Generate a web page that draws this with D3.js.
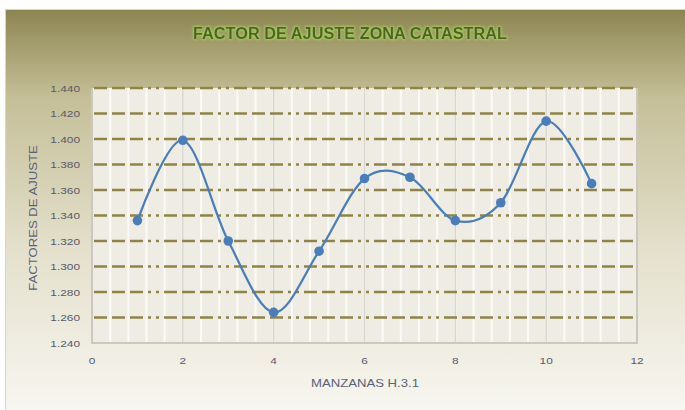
<!DOCTYPE html>
<html>
<head>
<meta charset="utf-8">
<script src="https://d3js.org/d3.v7.min.js"></script>
<style>
  body { margin: 0; background: #fff; }
  svg text { font-family: "Liberation Sans", Arial, sans-serif; }
</style>
</head>
<body>
<div id="chart"></div>
<script>
var width = 685, height = 410;
var margin = {top: 88, right: 48, bottom: 67, left: 92};
var stretch = 1.25; // the labels are drawn wide in the picture

// data
var manzanas = [1, 2, 3, 4, 5, 6, 7, 8, 9, 10, 11];
var factores = [1.336, 1.399, 1.320, 1.264, 1.312, 1.369, 1.370, 1.336, 1.350, 1.414, 1.365];
var xTicks = [0, 2, 4, 6, 8, 10, 12];
var yTicks = [1.24, 1.26, 1.28, 1.30, 1.32, 1.34, 1.36, 1.38, 1.40, 1.42, 1.44];
var titulo = "FACTOR DE AJUSTE ZONA CATASTRAL";
var xTitulo = "MANZANAS H.3.1";
var yTitulo = "FACTORES DE AJUSTE";

var svg = d3.select("#chart").append("svg")
    .attr("width", width)
    .attr("height", height);

var defs = svg.append("defs");
var grad = defs.append("linearGradient")
    .attr("id", "bg").attr("x1", 0).attr("y1", 0).attr("x2", 0).attr("y2", 1);
grad.append("stop").attr("offset", "0%").attr("stop-color", "#8d8550");
grad.append("stop").attr("offset", "22%").attr("stop-color", "#c5bf98");
grad.append("stop").attr("offset", "60%").attr("stop-color", "#e4e0cc");
grad.append("stop").attr("offset", "100%").attr("stop-color", "#f7f6f0");

var glow = defs.append("filter").attr("id", "glow")
    .attr("x", "-10%").attr("y", "-50%").attr("width", "120%").attr("height", "200%");
glow.append("feMorphology").attr("in", "SourceAlpha").attr("operator", "dilate").attr("radius", 1.2).attr("result", "d");
glow.append("feGaussianBlur").attr("in", "d").attr("stdDeviation", 1).attr("result", "b");
glow.append("feFlood").attr("flood-color", "#a4c85a");
glow.append("feComposite").attr("in2", "b").attr("operator", "in").attr("result", "g");
var mg = glow.append("feMerge");
mg.append("feMergeNode").attr("in", "g");
mg.append("feMergeNode").attr("in", "SourceGraphic");

// chart frame
svg.append("rect")
    .attr("x", 5.5).attr("y", 9.5)
    .attr("width", width - 5).attr("height", height - 9)
    .attr("fill", "url(#bg)")
    .attr("stroke", "#d4d4d4");

var x = d3.scaleLinear().domain([0, 12]).range([margin.left, width - margin.right]);
var y = d3.scaleLinear().domain([1.24, 1.44]).range([height - margin.bottom, margin.top]);

// plot area
svg.append("rect")
    .attr("x", x(0)).attr("y", y(1.44))
    .attr("width", x(12) - x(0)).attr("height", y(1.24) - y(1.44))
    .attr("fill", "#efede3");

// minor vertical grid
var minor = d3.range(0, 12.01, 0.4);
svg.append("g").selectAll("line")
    .data(minor).enter()
    .append("line")
    .attr("x1", function(d) { return x(d); })
    .attr("x2", function(d) { return x(d); })
    .attr("y1", y(1.44)).attr("y2", y(1.24))
    .attr("stroke", "#fbfaf6")
    .attr("stroke-width", 2);

// major vertical grid
svg.append("g").selectAll("line")
    .data(xTicks.slice(1, -1)).enter()
    .append("line")
    .attr("x1", function(d) { return x(d); })
    .attr("x2", function(d) { return x(d); })
    .attr("y1", y(1.44)).attr("y2", y(1.24))
    .attr("stroke", "#d6d5cf")
    .attr("stroke-width", 1.5);

// horizontal grid
svg.append("g").selectAll("line")
    .data(yTicks.slice(1)).enter()
    .append("line")
    .attr("x1", x(0) + 2).attr("x2", x(12) - 4)
    .attr("y1", function(d) { return y(d); })
    .attr("y2", function(d) { return y(d); })
    .attr("stroke", "#8f8446")
    .attr("stroke-width", 2.5)
    .attr("stroke-dasharray", "13,5,13,5,13,5,3,5,3,5");

// plot border (left, bottom, right)
svg.append("path")
    .attr("d", "M" + x(0) + "," + y(1.44) + "V" + y(1.24) + "H" + x(12) + "V" + y(1.44))
    .attr("fill", "none")
    .attr("stroke", "#c9c8c2")
    .attr("stroke-width", 2);

// axis labels
svg.append("g").selectAll("text")
    .data(yTicks).enter()
    .append("text")
    .attr("transform", function(d) {
      return "translate(" + (x(0) - 12) + "," + (y(d) + 3.5) + ") scale(" + stretch + ",1)";
    })
    .attr("text-anchor", "end")
    .attr("font-size", 9.5)
    .attr("fill", "#58596b")
    .text(function(d) { return d3.format(".3f")(d); });

svg.append("g").selectAll("text")
    .data(xTicks).enter()
    .append("text")
    .attr("transform", function(d) {
      return "translate(" + x(d) + "," + (y(1.24) + 21) + ") scale(" + stretch + ",1)";
    })
    .attr("text-anchor", "middle")
    .attr("font-size", 9.5)
    .attr("fill", "#58596b")
    .text(function(d) { return d; });

// line
var line = d3.line()
    .x(function(d, i) { return x(manzanas[i]); })
    .y(function(d) { return y(d); })
    .curve(d3.curveCardinal.tension(0));

svg.append("path")
    .datum(factores)
    .attr("d", line)
    .attr("fill", "none")
    .attr("stroke", "#4a7ebb")
    .attr("stroke-width", 2.25);

svg.append("g").selectAll("circle")
    .data(factores).enter()
    .append("circle")
    .attr("cx", function(d, i) { return x(manzanas[i]); })
    .attr("cy", function(d) { return y(d); })
    .attr("r", 4.8)
    .attr("fill", "#4a7ebb");

// titles
svg.append("text")
    .attr("x", 350).attr("y", 39)
    .attr("text-anchor", "middle")
    .attr("font-size", 16)
    .attr("font-weight", "bold")
    .attr("textLength", 314)
    .attr("lengthAdjust", "spacingAndGlyphs")
    .attr("fill", "#4f6228")
    .attr("filter", "url(#glow)")
    .text(titulo);

svg.append("text")
    .attr("transform", "translate(365,387) scale(" + stretch + ",1)")
    .attr("text-anchor", "middle")
    .attr("font-size", 10.5)
    .attr("fill", "#5a6178")
    .text(xTitulo);

svg.append("text")
    .attr("transform", "translate(37,218) rotate(-90) scale(" + stretch + ",1)")
    .attr("text-anchor", "middle")
    .attr("font-size", 10.5)
    .attr("fill", "#5a6178")
    .text(yTitulo);
</script>
</body>
</html>
